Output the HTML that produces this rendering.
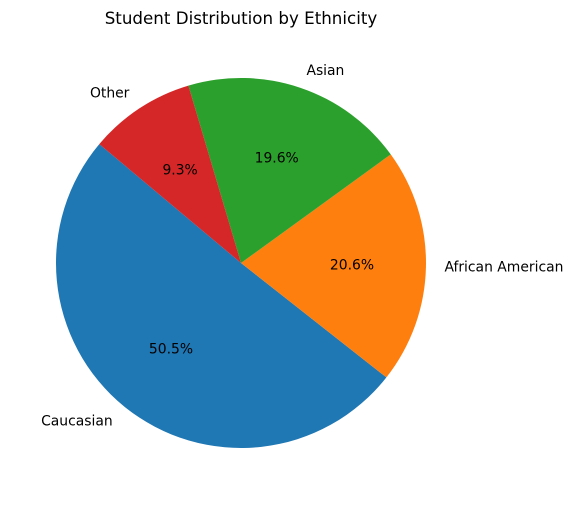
<!DOCTYPE html>
<html><head><meta charset="utf-8"><style>
body{margin:0;background:#fff;}
svg text{font-family:"DejaVu Sans","Liberation Sans",sans-serif;}
</style></head><body>
<svg id="chart" width="573" height="504">
<text x="241" y="24" font-size="16.7" text-anchor="middle">Student Distribution by Ethnicity</text>
</svg>
<script>
const categories = ["Caucasian","African American","Asian","Other"];
const values = [50.5,20.6,19.6,9.3];
const colors = ["#1f77b4","#ff7f0e","#2ca02c","#d62728"];
const startAngle = 140;
const cx=241, cy=263, r=185;
const svg=document.getElementById('chart');
const NS='http://www.w3.org/2000/svg';
const total=values.reduce((a,b)=>a+b,0);
let a0=startAngle;
function pt(deg,rad){const t=deg*Math.PI/180;return [cx+rad*Math.cos(t),cy-rad*Math.sin(t)];}
values.forEach((v,i)=>{
  const sweep=v/total*360, a1=a0+sweep;
  const p0=pt(a0,r), p1=pt(a1,r);
  const path=document.createElementNS(NS,'path');
  path.setAttribute('d',`M${cx},${cy} L${p0[0]},${p0[1]} A${r},${r} 0 ${sweep>180?1:0} 0 ${p1[0]},${p1[1]} Z`);
  path.setAttribute('fill',colors[i]);
  
  
  svg.appendChild(path);
  const mid=(a0+a1)/2;
  const lp=pt(mid,r*1.1);
  const lt=document.createElementNS(NS,'text');
  lt.setAttribute('x',lp[0]);lt.setAttribute('y',lp[1]+4.5);
  lt.setAttribute('font-size','13.9');
  lt.setAttribute('text-anchor',Math.cos(mid*Math.PI/180)>0?'start':'end');
  lt.textContent=categories[i];
  
  
  svg.appendChild(lt);
  const pp=pt(mid,r*0.6);
  const pt2=document.createElementNS(NS,'text');
  pt2.setAttribute('x',pp[0]);pt2.setAttribute('y',pp[1]+4.5);
  pt2.setAttribute('font-size','13.9');
  pt2.setAttribute('text-anchor','middle');
  pt2.textContent=(v/total*100).toFixed(1)+'%';
  
  
  svg.appendChild(pt2);
  a0=a1;
});
</script>
</body></html>
